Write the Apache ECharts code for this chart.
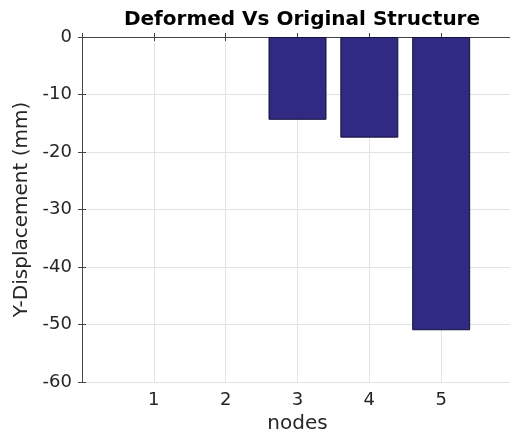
<!DOCTYPE html>
<html>
<head>
<meta charset="utf-8">
<script src="https://cdn.jsdelivr.net/npm/echarts@6/dist/echarts.min.js"></script>
<style>html,body{margin:0;padding:0;background:#fff}#c{width:510px;height:437px}</style>
</head>
<body>
<div id="c"></div>
<script>
var nodes = [1, 2, 3, 4, 5];
var displacement = [0, 0, -14.4, -17.5, -51.0];
var xTicks = ['1', '2', '3', '4', '5'];
var yTicks = [0, -10, -20, -30, -40, -50, -60];

var font = 'DejaVu Sans, Liberation Sans, Arial, sans-serif';
var axisCol = '#444444';
var chart = echarts.init(document.getElementById('c'));
chart.setOption({
  animation: false,
  title: {
    text: 'Deformed Vs Original Structure',
    left: 297, top: 5, textAlign: 'center',
    textStyle: {fontFamily: font, fontSize: 20, fontWeight: 'bold', color: '#000'}
  },
  grid: {left: 82, width: 431, top: 37, bottom: 55, outerBoundsMode: 'none', containLabel: false},
  xAxis: [{
    type: 'value', min: 0, max: 6, interval: 1, position: 'bottom',
    name: 'nodes', nameLocation: 'middle', nameGap: 31,
    nameTextStyle: {fontFamily: font, fontSize: 20, color: '#262626'},
    axisLine: {show: true, lineStyle: {color: axisCol, width: 1}},
    axisTick: {show: true, inside: true, length: 4, lineStyle: {color: axisCol}},
    axisLabel: {
      fontFamily: font, fontSize: 18, color: '#262626', margin: 9,
      formatter: function (v) { var i = nodes.indexOf(v); return i >= 0 ? xTicks[i] : ''; }
    },
    splitLine: {show: true, lineStyle: {color: '#e3e3e3', width: 1}}
  }, {
    type: 'value', min: 0, max: 6, interval: 1, position: 'top',
    axisLine: {show: true, lineStyle: {color: axisCol, width: 1}},
    axisTick: {show: true, inside: true, length: 4, lineStyle: {color: axisCol}},
    axisLabel: {show: false}, splitLine: {show: false}
  }],
  yAxis: [{
    type: 'value', min: -60, max: 0, interval: 10, position: 'left',
    name: 'Y-Displacement (mm)', nameLocation: 'middle', nameGap: 50,
    nameTextStyle: {fontFamily: font, fontSize: 20, color: '#262626'},
    axisLine: {show: true, lineStyle: {color: axisCol, width: 1}},
    axisTick: {show: true, inside: true, length: 4, lineStyle: {color: axisCol}},
    axisLabel: {
      fontFamily: font, fontSize: 18, color: '#262626', margin: 10,
      formatter: function (v) { return yTicks.indexOf(v) >= 0 ? String(v) : ''; }
    },
    splitLine: {show: true, lineStyle: {color: '#e3e3e3', width: 1}}
  }, {
    type: 'value', min: -60, max: 0, interval: 10, position: 'right',
    axisLine: {show: true, lineStyle: {color: axisCol, width: 1}},
    axisTick: {show: true, inside: true, length: 4, lineStyle: {color: axisCol}},
    axisLabel: {show: false}, splitLine: {show: false}
  }],
  series: [{
    type: 'bar',
    barWidth: 58,
    data: nodes.map(function (n, i) {
      return {value: [n, displacement[i]], itemStyle: {borderWidth: displacement[i] === 0 ? 0 : 1}};
    }),
    itemStyle: {color: '#312a82', borderColor: '#14123a', borderWidth: 1}
  }]
});
</script>
</body>
</html>
